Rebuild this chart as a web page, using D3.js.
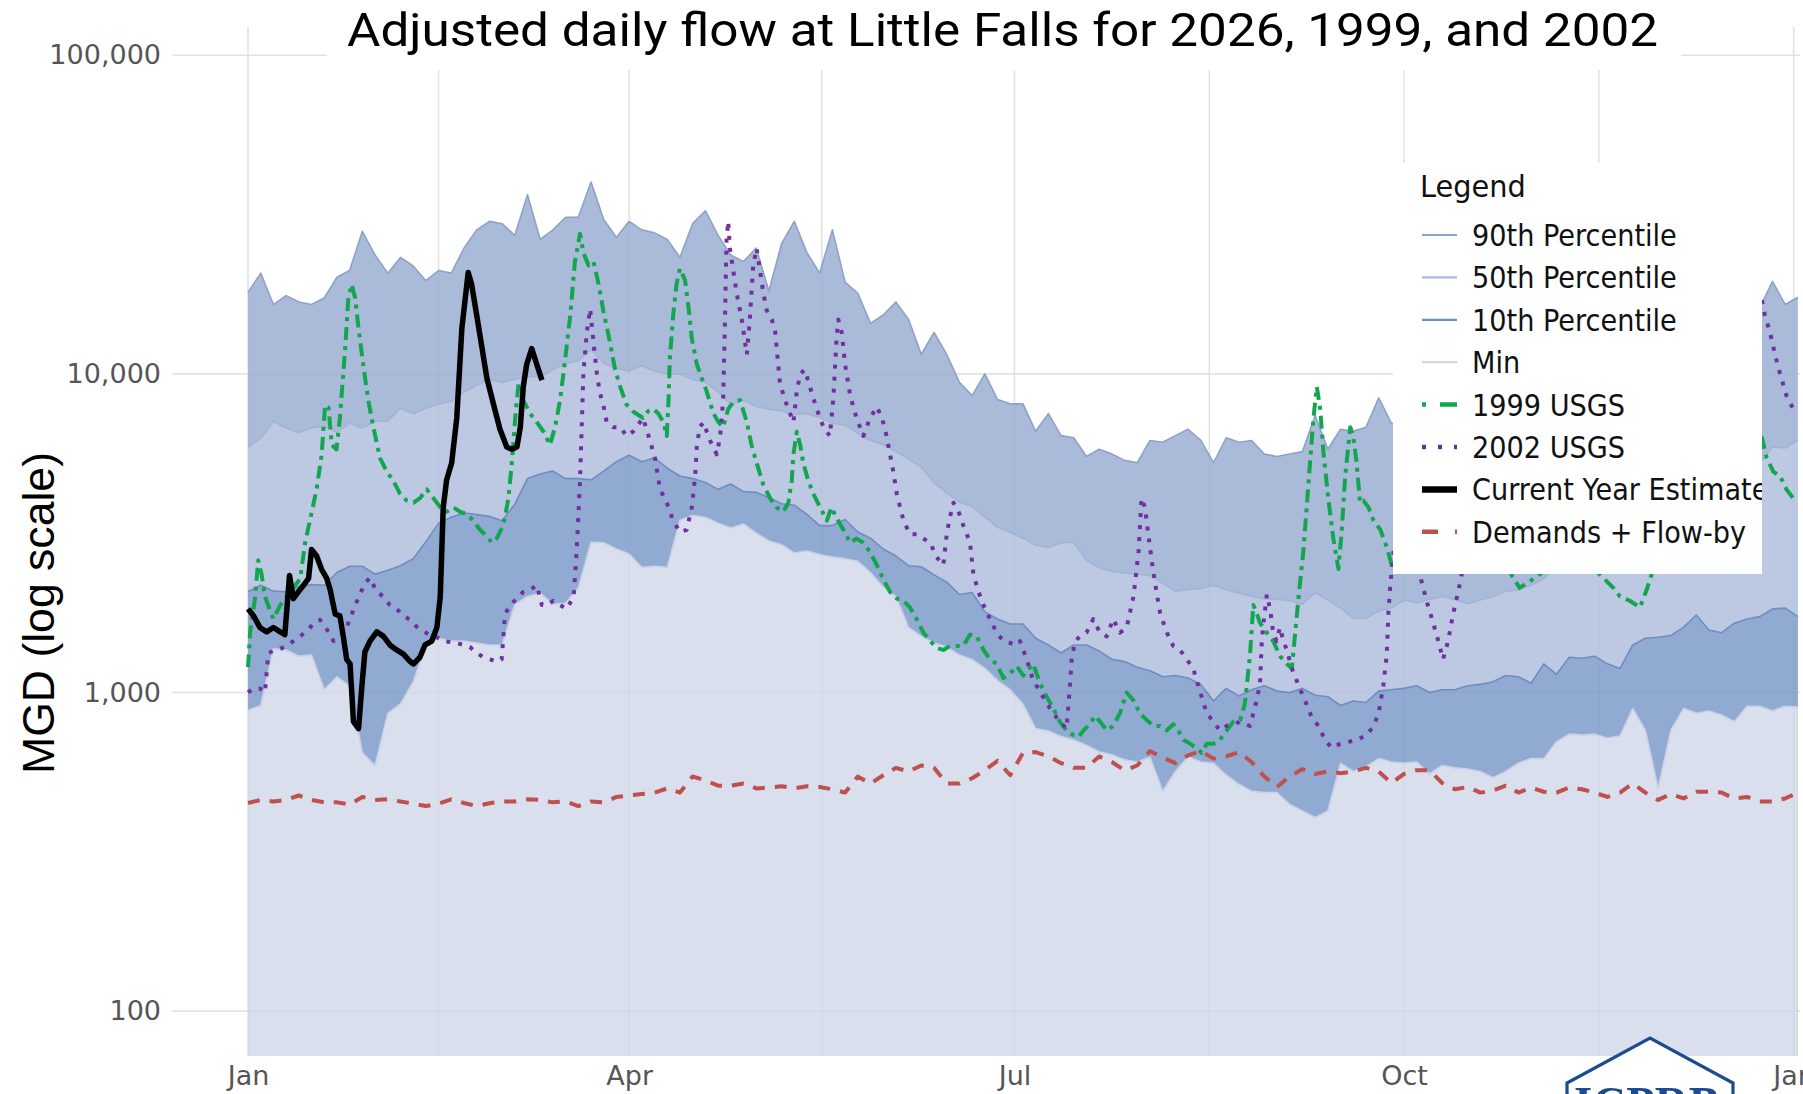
<!DOCTYPE html>
<html><head><meta charset="utf-8">
<script src="https://cdn.jsdelivr.net/npm/d3@7"></script>
<style>html,body{margin:0;padding:0;background:#fff;overflow:hidden}</style>
</head><body>
<svg id="chart" width="1803" height="1094"></svg>
<script>
// ---------------- DATA ----------------
const bandDays = [0,3,6,9,12,15,18,21,24,27,30,33,36,39,42,45,48,51,54,57,60,63,66,69,72,75,78,81,84,87,90,
93,96,99,102,105,108,111,114,117,120,123,126,129,132,135,138,141,144,147,150,153,156,159,162,165,168,171,174,177,180,183,
186,189,192,195,198,201,204,207,210,213,216,219,222,225,228,231,234,237,240,243,246,249,252,255,258,261,264,267,270,
273,276,279,282,285,288,291,294,297,300,303,306,309,312,315,318,321,324,327,330,333,336,339,342,345,348,351,354,357,360,363,366];

const p90 = [18000,20700,16500,17600,16800,16500,17300,20100,21100,28000,23600,20700,23200,21800,19600,21100,20700,24800,28300,30100,29600,27200,36500,26400,28300,31000,31000,40000,30500,26800,30100,
28300,27700,26400,23200,29600,32500,27200,23600,22500,24800,18200,25600,30100,24000,20700,28300,19400,17900,14400,15300,16800,14800,11500,13500,11500,9400,8540,10000,8300,8050,8050,
6600,7500,6400,6300,5500,5800,5600,5350,5260,6180,6100,6400,6700,6180,5260,6300,6100,6180,5600,5500,5600,5700,7400,5800,6700,6600,6800,8400,7000,
7000,7500,7200,7800,8000,7600,8200,8500,9000,8800,9500,10000,10500,11000,10800,11500,12000,12500,12000,13000,13500,14000,14500,15000,15500,16000,16500,17000,16100,19500,16500,17400];

const p50 = [5900,6270,7100,6760,6550,6760,6850,6550,7000,6760,7100,7100,7800,7500,7800,8050,8200,8760,9200,9600,9400,9600,9800,9800,10300,10800,11000,11900,10800,10400,10200,
10600,10200,10000,10000,9600,9400,8800,8000,8270,7900,7750,7650,7450,7500,7300,7000,6900,6500,6180,6000,5700,5400,5100,4550,4230,3960,3830,3550,3300,3180,3050,
2900,2850,2950,2960,2600,2460,2400,2370,2350,2330,2200,2080,2100,2120,2170,2100,2050,2000,1970,1960,1940,1890,2060,1950,1840,1710,1710,1800,1840,
1950,1910,1960,2000,1960,1900,1950,2000,2080,2100,2170,2280,2500,2700,2900,3000,3200,3300,3500,3700,3900,4200,4500,4800,5000,5200,5500,5300,5260,5900,5850,6200];

const p10 = [2070,2170,2080,2070,2150,2180,2170,2380,2490,2490,2350,2420,2500,2630,2970,3400,3550,3660,3620,3570,3460,3900,4690,4850,4950,4690,4690,4650,4950,5300,5550,
5300,5450,5060,4780,4690,4560,4340,4510,4270,4250,4090,3910,3870,3620,3340,3340,3490,3190,3050,2820,2680,2500,2480,2340,2220,2030,2060,1790,1700,1640,1640,
1480,1410,1330,1410,1410,1350,1270,1250,1200,1170,1120,1130,1110,1060,940,1030,975,1020,1050,1010,1000,1030,980,970,910,940,930,1010,1020,
1030,1050,1000,1020,1020,1050,1060,1080,1130,1120,1070,1230,1140,1290,1280,1300,1230,1190,1410,1480,1490,1510,1600,1750,1570,1540,1650,1700,1730,1830,1840,1730];

const pMin = [880,910,1370,1360,1300,1310,1020,1120,1050,646,590,860,920,1080,1400,1480,1450,1450,1430,1410,1410,1890,2000,2050,1890,1910,2130,2960,2950,2820,2720,
2470,2490,2470,3470,3590,3540,3400,3280,3380,3160,2990,2910,2740,2780,2710,2660,2630,2580,2380,2140,2000,1600,1500,1430,1390,1310,1270,1190,1090,1020,920,
770,757,727,710,683,652,638,615,605,627,490,565,628,605,600,550,515,490,485,485,445,425,405,425,600,565,585,620,605,
600,605,555,590,580,575,565,540,565,600,620,620,700,740,735,740,720,730,890,760,500,760,890,860,875,850,810,905,905,875,905,900];

const demand = [450,460,455,460,475,460,452,452,445,470,460,462,455,448,440,448,462,450,440,449,455,455,462,460,452,455,440,455,452,470,475,
480,485,500,485,545,530,510,510,518,500,503,508,500,508,505,497,485,545,518,550,580,565,590,580,518,518,538,570,610,550,646,
650,630,600,580,580,630,605,570,590,655,625,600,635,655,620,630,650,605,545,505,545,575,555,565,558,565,580,565,520,
555,570,570,520,497,505,485,492,510,485,503,488,485,503,497,485,470,485,518,485,460,480,465,488,488,485,465,470,455,455,465,485];

const days1999 = [0,0.5,1.7,2.4,3.2,4.0,5.2,6.0,7.6,9.1,10.7,12.3,13.5,14.6,16.2,17.4,18.2,19.0,19.8,20.9,21.7,22.9,23.7,24.5,25.3,26.1,27.2,28.4,29.6,31.2,32.8,34.3,35.9,37.5,39.1,40.6,42.2,43.8,45.4,46.9,48.5,50.1,51.7,53.2,54.8,56.4,57.6,58.7,60.3,61.5,62.3,63.1,63.9,65.0,66.6,68.2,69.8,71.3,72.5,73.7,74.9,76.1,77.2,78.4,79.2,80.4,81.6,82.8,83.9,85.5,86.7,87.9,89.4,91.0,
93.3,94.5,95.7,96.9,98.1,98.9,99.3,99.6,100.4,101.2,102.0,103.2,104.0,104.8,106.0,107.1,108.3,109.9,111.1,112.2,113.4,114.6,116.2,117.8,118.9,120.1,121.7,123.3,124.8,126.4,127.6,128.4,128.8,129.6,130.4,131.1,132.3,133.5,135.1,136.7,137.8,139.0,140.6,142.2,143.7,145.3,146.9,148.5,150.0,151.6,153.2,154.8,156.3,157.9,159.5,161.1,162.6,164.2,165.8,167.4,168.9,170.5,172.1,173.7,175.2,176.8,178.4,180.0,181.5,183.1,
185.4,187.0,188.6,190.2,191.7,193.3,194.9,196.1,197.3,198.8,200.0,201.2,202.8,204.3,205.9,207.5,209.1,210.6,212.2,213.8,215.4,216.9,218.5,219.7,220.9,222.5,224.0,225.2,226.4,228.0,229.5,231.1,232.7,234.3,235.4,236.6,237.4,238.2,239.0,240.6,242.1,243.7,245.3,246.5,247.3,248.1,249.2,250.0,250.8,251.6,252.4,253.2,254.0,255.1,256.3,257.5,258.3,259.1,260.3,261.0,261.8,262.6,263.4,264.6,265.8,267.4,268.9,270.1,
273,278,283,288,293,297,300.3,303.5,306.6,310,314,317,319.2,322.4,324.0,326.3,328.7,330.3,334,340,345,350,354,357.4,358.6,360.2,361.8,363.3,364.9];
const flow1999 = [1200,1540,2000,2600,2350,2000,1810,1700,1880,2000,2130,2270,2950,3460,4340,5590,7980,7850,5980,5790,7270,11800,17300,19100,17300,13900,10700,8270,6800,5430,4930,4620,4200,4000,3940,4070,4340,4070,3810,3690,3810,3690,3630,3460,3240,3090,2950,3040,3350,4070,5260,7270,9370,8270,7510,7050,6580,5980,6800,8270,11100,15300,22500,27500,24000,21900,22500,19100,15800,12500,10300,9100,8000,7600,
7270,7640,7760,7510,7050,6380,8270,11100,15300,19100,21400,19700,16300,12900,10700,9730,8820,7510,7050,6800,7760,8150,8270,7050,5980,5260,4480,4070,3810,3690,3940,4620,5590,6580,5980,5260,4620,4200,3810,3460,3810,3520,3240,2950,3040,2950,2760,2510,2270,2070,1970,1940,1850,1700,1540,1450,1380,1360,1400,1400,1400,1520,1500,1360,1270,1230,1110,1150,1210,1130,
1230,1070,970,890,810,760,735,725,760,795,845,810,760,785,860,1000,945,860,820,785,785,760,795,760,710,690,670,646,690,690,710,760,810,820,920,1300,1880,1770,1650,1540,1450,1300,1230,1190,1540,2000,2760,3810,5260,7270,9100,7760,5590,4070,3040,2440,3240,4780,6800,6380,5260,3940,4000,3810,3460,3240,2860,2510,
2700,3500,4500,3800,3000,2500,2130,2270,2440,3200,2800,2500,2350,2130,2000,1940,1850,2100,3000,5000,8000,6500,7500,6380,5460,4930,4780,4340,4070];

const days2002 = [0,1.3,2.8,4.0,4.8,6.0,7.6,9.1,10.7,12.3,13.9,15.4,17.0,18.6,20.2,21.7,22.9,24.1,25.3,26.5,27.6,28.8,30.4,32.0,33.5,35.1,36.7,38.3,39.8,41.4,43.0,44.6,46.1,49.3,52.4,54.0,55.6,57.2,58.7,59.9,60.7,61.9,63.5,65.0,66.6,68.2,69.4,70.6,72.1,73.7,75.3,76.9,77.6,78.4,79.2,80.0,80.8,81.6,82.4,83.1,83.9,84.7,86.3,87.9,89.4,91.0,
93.3,94.9,96.1,97.3,98.9,100.4,102.0,103.6,104.8,105.6,106.0,106.7,107.5,109.1,110.7,111.5,112.2,112.6,113.0,113.4,113.8,114.6,115.4,116.6,117.8,118.5,119.3,120.1,120.9,121.7,122.5,123.7,124.5,125.6,126.8,128.0,128.8,129.6,130.4,131.5,132.7,134.3,135.9,137.4,138.2,139.0,139.4,140.2,141.0,142.2,143.7,145.3,146.9,148.5,149.7,150.8,151.6,152.4,153.2,154.8,156.3,157.9,159.5,161.1,162.6,164.2,165.0,165.8,166.6,167.8,168.9,170.5,171.3,172.5,173.7,175.2,176.8,178.4,180.0,181.5,
182.3,183.9,185.4,187.0,188.6,190.2,191.7,193.3,194.1,194.5,195.3,196.5,198.0,199.6,201.2,202.8,204.3,205.9,207.5,209.1,210.3,211.0,211.8,212.6,213.4,214.2,215.4,217.0,218.5,220.1,221.7,223.2,224.8,226.4,228.0,229.5,231.1,232.7,234.3,236.6,237.4,238.2,239.0,239.4,239.8,240.6,241.4,242.1,242.9,243.7,244.5,245.3,246.5,248.1,249.6,251.2,252.8,254.3,255.9,257.9,259.9,261.8,264.2,265.8,267.0,268.1,268.9,269.3,269.7,270.5,
273,276.7,278.3,279.9,281.4,282.2,283.4,284.6,285.8,286.6,290,295,300,305,310,315,320,325,330,335,340,345,350,355,357.4,358.2,359.4,360.6,361.8,363.3,364.9];
const flow2002 = [1000,1030,1030,1000,1330,1350,1370,1400,1450,1500,1560,1640,1690,1580,1450,1500,1560,1700,1880,2040,2200,2290,2070,2000,1880,1830,1740,1690,1610,1560,1510,1490,1450,1430,1390,1330,1290,1270,1250,1270,1760,1880,1970,2070,2100,2170,1880,1880,1940,1880,1830,2000,2760,4620,10000,13500,16000,12500,10000,8700,8000,7050,6800,6800,6380,6600,
7270,6180,5440,4340,3940,3460,3190,3240,3810,4780,5980,6800,7050,6180,5590,6380,8270,13900,26400,30100,24800,21100,17900,14800,11500,14800,21800,24800,21100,17900,15800,14800,13500,9370,8270,7510,7050,8820,10000,10300,9100,7760,6800,6380,8270,13000,14800,13500,10700,8540,7270,6380,7270,7880,7270,6380,5590,4930,4200,3460,3140,3140,3040,2950,2660,2510,3140,3570,3940,3690,3350,2950,2350,2070,1880,1700,1540,1450,1430,1410,
1450,1270,1090,1010,925,860,810,770,1050,1270,1450,1500,1540,1700,1540,1500,1700,1540,1600,2000,2760,4070,3810,3140,2600,2200,1770,1540,1400,1360,1270,1190,1010,860,810,760,785,795,810,785,860,945,1070,1450,1650,2030,1810,1540,1450,1600,1450,1360,1190,1050,945,835,785,710,670,690,700,710,735,785,860,1050,1310,1770,2130,2760,
4500,2350,1940,1650,1400,1270,1450,1770,2070,2350,3500,2800,2600,3200,5000,4000,3500,3000,4500,6000,5500,8000,12000,15000,17300,15300,13500,11500,10000,8540,7760];

const daysCurrent = [0,1.3,2.8,4.4,6.0,7.6,8.7,9.8,10.7,11.9,13.1,14.3,15.0,16.2,17.4,18.6,19.4,20.6,21.7,22.5,23.3,24.1,24.9,26.1,26.9,27.6,28.8,30.4,32.0,33.5,35.1,36.7,38.3,39.1,40.6,41.8,43.4,44.6,45.4,46.1,46.9,48.1,49.3,50.5,52.0,52.8,54.0,55.2,56.4,58.0,59.5,61.1,62.3,63.5,64.3,65.0,65.8,67.0,68.2,69.4];
const flowCurrent = [1830,1740,1600,1550,1600,1550,1520,2330,1970,2070,2170,2280,2810,2680,2430,2280,2100,1760,1740,1500,1270,1230,810,770,1050,1340,1450,1550,1500,1410,1360,1320,1250,1230,1290,1410,1450,1600,2000,3810,4640,5260,7270,13900,20800,19100,15300,12200,9700,8000,6700,5890,5800,5890,6800,9100,10700,12000,10700,9550];

const yTickValues = [100, 1000, 10000, 100000];
const xTickDays = [0, 90, 181, 273, 365];
const xTickLabels = ["Jan", "Apr", "Jul", "Oct", "Jan"];
const xMinorDays = [45, 135.5, 227, 319];
const legendLabels = ["90th Percentile","50th Percentile","10th Percentile","Min","1999 USGS","2002 USGS","Current Year Estimate","Demands + Flow-by"];
const titleText = "Adjusted daily flow at Little Falls for 2026, 1999, and 2002";
const yLabelText = "MGD (log scale)";

// ---------------- LAYOUT ----------------
const W = 1803, H = 1094;
const plot = {left: 172, right: 1800, top: 27, bottom: 1056};
const x = d3.scaleLinear().domain([-17.95, 366.5]).range([plot.left, plot.right]);
const y = d3.scaleLog().domain([72.3, 122600]).range([plot.bottom, plot.top]);

const svg = d3.select('#chart');
svg.append('rect').attr('width', W).attr('height', H).attr('fill', '#fff');
const defs = svg.append('defs');
defs.append('clipPath').attr('id', 'plotClip').append('rect')
  .attr('x', plot.left).attr('y', plot.top).attr('width', plot.right - plot.left).attr('height', plot.bottom - plot.top);

function drawGrid(layer, color, width) {
  yTickValues.forEach(v => layer.append('line')
    .attr('x1', plot.left).attr('x2', plot.right).attr('y1', y(v)).attr('y2', y(v))
    .attr('stroke', color).attr('stroke-width', width));
  xTickDays.concat(xMinorDays).forEach(d => layer.append('line')
    .attr('x1', x(d)).attr('x2', x(d)).attr('y1', plot.top).attr('y2', plot.bottom)
    .attr('stroke', color).attr('stroke-width', width));
}
drawGrid(svg.append('g').attr('clip-path', 'url(#plotClip)'), '#e8e9ec', 1.6);

const g = svg.append('g').attr('clip-path', 'url(#plotClip)');
const bands = [
  {vals: p90, fill: '#aabad9', stroke: '#8ea2c9'},
  {vals: p50, fill: '#bdc9e3', stroke: '#a2b3d5'},
  {vals: p10, fill: '#91aad2', stroke: '#6f8dbf'},
  {vals: pMin, fill: '#d9dfec', stroke: '#c8d1e6'}
];
const area = d3.area().x(d => x(d[0])).y0(plot.bottom).y1(d => y(d[1]));
const line = d3.line().x(d => x(d[0])).y(d => y(d[1]));
bands.forEach(b => {
  const data = bandDays.map((d, i) => [d, b.vals[i]]);
  g.append('path').datum(data).attr('d', area).attr('fill', b.fill);
  g.append('path').datum(data).attr('d', line).attr('fill', 'none')
    .attr('stroke', b.stroke).attr('stroke-width', 1.6).attr('stroke-linejoin', 'round');
});
drawGrid(g.append('g'), 'rgba(80,95,125,0.035)', 1.6);

function series(days, vals, color, width, dash) {
  const data = days.map((d, i) => [d, vals[i]]);
  const p = g.append('path').datum(data).attr('d', line).attr('fill', 'none')
    .attr('stroke', color).attr('stroke-width', width).attr('stroke-linejoin', 'round');
  if (dash) p.attr('stroke-dasharray', dash);
}
const GREEN = '#12a64e', PURPLE = '#7030a0', RED = '#c0504d';
series(days1999, flow1999, GREEN, 4, '13,6,4,6');
series(days2002, flow2002, PURPLE, 4, '4,8');
series(daysCurrent, flowCurrent, '#000', 5.5, null);
series(bandDays, demand, RED, 4, '12,10');

// axes
const yAxis = d3.axisLeft(y).tickValues(yTickValues).tickFormat(d3.format(',')).tickSize(0).tickPadding(11);
const ya = svg.append('g').attr('transform', `translate(${plot.left},0)`).call(yAxis);
const xAxis = d3.axisBottom(x).tickValues(xTickDays).tickFormat((d, i) => xTickLabels[i]).tickSize(0).tickPadding(10);
const xa = svg.append('g').attr('transform', `translate(0,${plot.bottom})`).call(xAxis);
[ya, xa].forEach(a => {
  a.select('.domain').remove();
  a.selectAll('text').attr('font-family', 'DejaVu Sans, sans-serif').attr('font-size', 27).attr('fill', '#555');
});

// title with white box
svg.append('rect').attr('x', 327).attr('y', 0).attr('width', 1354).attr('height', 70).attr('fill', '#fff');
svg.append('text').attr('x', 1002.5).attr('y', 46).attr('text-anchor', 'middle')
  .attr('font-family', 'Roboto, Open Sans, sans-serif').attr('font-size', 47).attr('fill', '#000')
  .attr('textLength', 1311).attr('lengthAdjust', 'spacingAndGlyphs').text(titleText);

// y label
svg.append('text').attr('transform', 'translate(54,613) rotate(-90)').attr('text-anchor', 'middle')
  .attr('font-family', 'Liberation Sans, Arial, sans-serif').attr('font-size', 45).attr('fill', '#000')
  .attr('textLength', 322).attr('lengthAdjust', 'spacingAndGlyphs').text(yLabelText);

// legend
const L = {x: 1393, y: 163, w: 369, h: 411};
defs.append('clipPath').attr('id', 'legClip').append('rect').attr('x', L.x).attr('y', L.y).attr('width', L.w).attr('height', L.h);
const lg = svg.append('g').attr('clip-path', 'url(#legClip)');
lg.append('rect').attr('x', L.x).attr('y', L.y).attr('width', L.w).attr('height', L.h).attr('fill', '#fff');
const lt = lg.append('text').attr('x', 1420).attr('y', 197).attr('font-family', 'DejaVu Sans, sans-serif')
  .attr('font-size', 31).attr('fill', '#111').text('Legend');
const legendStyles = [
  {c: '#8ea2c9', w: 2.2}, {c: '#a9b9d8', w: 2.2}, {c: '#6f8dbf', w: 2.2}, {c: '#cdd6e9', w: 2.2},
  {c: GREEN, w: 4.5, dash: '4,14,17,40'}, {c: PURPLE, w: 4.5, dash: '4,12'},
  {c: '#000', w: 6.5}, {c: RED, w: 4.5, dash: '16,17,2,40'}
];
legendLabels.forEach((lab, i) => {
  const cy = 235 + i * 42.4;
  const st = legendStyles[i];
  const ln = lg.append('line').attr('x1', 1422).attr('x2', 1457).attr('y1', cy).attr('y2', cy)
    .attr('stroke', st.c).attr('stroke-width', st.w);
  if (st.dash) ln.attr('stroke-dasharray', st.dash);
  const t = lg.append('text').attr('x', 1472).attr('y', cy + 11).attr('font-family', 'DejaVu Sans, sans-serif')
    .attr('font-size', 31).attr('fill', '#111').text(lab);
  const wN = t.node().getComputedTextLength();
  t.attr('textLength', wN * 0.875).attr('lengthAdjust', 'spacingAndGlyphs');
});
{
  const wN = lt.node().getComputedTextLength();
  lt.attr('textLength', wN * 0.93).attr('lengthAdjust', 'spacingAndGlyphs');
}

// logo
const logo = svg.append('g');
logo.append('path').attr('d', 'M1567,1100 L1567,1083 L1650,1038 L1733,1083 L1733,1100 Z')
  .attr('fill', '#fff').attr('stroke', '#1b4b93').attr('stroke-width', 3.2).attr('stroke-linejoin', 'miter');
logo.append('text').attr('x', 1647).attr('y', 1121).attr('text-anchor', 'middle')
  .attr('font-family', 'Liberation Serif, serif').attr('font-weight', 'bold').attr('font-size', 50)
  .attr('fill', '#1b4b93').attr('textLength', 146).attr('lengthAdjust', 'spacingAndGlyphs').text('ICPRB');
</script>
</body></html>
